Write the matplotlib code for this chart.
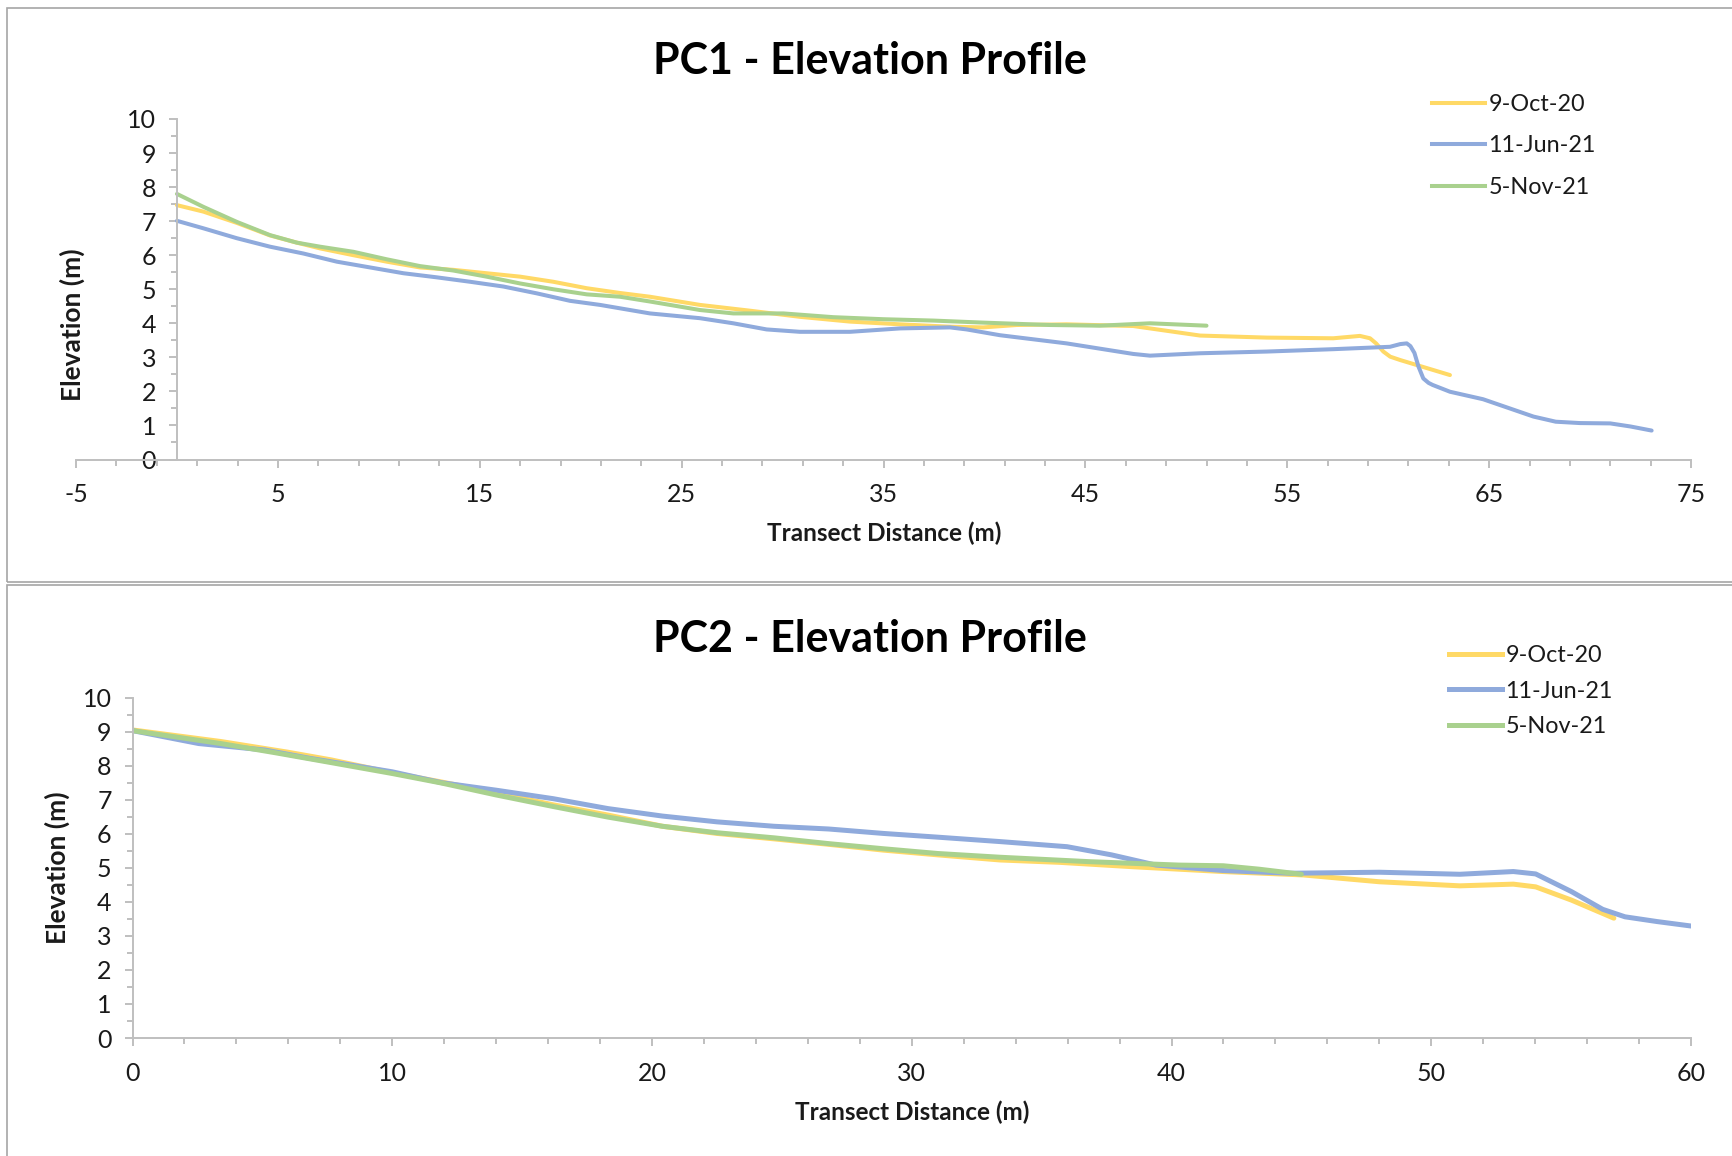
import matplotlib.pyplot as plt
from matplotlib.ticker import FixedLocator, MultipleLocator
from matplotlib.patches import Rectangle
from matplotlib.lines import Line2D

plt.rcParams['font.family'] = ['Lato', 'DejaVu Sans']
plt.rcParams['axes.unicode_minus'] = False

dates = ['9-Oct-20', '11-Jun-21', '5-Nov-21']
colors = ['#FFD966', '#8FAADC', '#A9D18E']

# PC1 profiles (distance m, elevation m)
pc1_oct20_x = [0, 1.31, 2.96, 4.61, 5.93, 7.09, 8.74, 10.39, 12.04, 13.69, 15.34, 17.0, 18.64, 20.3, 21.95, 23.43,
               25.91, 28.39, 30.86, 33.34, 35.82, 38.29, 39.94, 41.6, 44.07, 47.37, 49.03, 50.68, 53.98, 57.28,
               58.6, 59.1, 59.4, 59.76, 60.1, 60.6, 63.06]
pc1_oct20_y = [7.47, 7.28, 6.95, 6.58, 6.37, 6.2, 6.0, 5.81, 5.64, 5.57, 5.47, 5.37, 5.22, 5.03, 4.89, 4.78,
               4.54, 4.37, 4.19, 4.05, 3.97, 3.9, 3.88, 3.95, 3.97, 3.92, 3.78, 3.64, 3.58, 3.56,
               3.63, 3.56, 3.41, 3.17, 3.02, 2.92, 2.48]

pc1_jun21_x = [0, 1.31, 2.96, 4.61, 6.26, 7.92, 9.57, 11.22, 12.87, 14.52, 16.17, 17.82, 19.47, 20.96, 23.43,
               25.91, 27.56, 29.21, 30.86, 33.34, 35.82, 38.29, 39.12, 40.77, 44.07, 47.37, 48.2, 50.68, 53.98,
               57.28, 60.09, 60.6, 60.92, 61.1, 61.3, 61.5, 61.74, 62.0, 62.2, 63.06, 64.7, 67.2, 68.3, 69.5,
               71.0, 72.0, 73.05]
pc1_jun21_y = [7.01, 6.79, 6.5, 6.25, 6.05, 5.81, 5.64, 5.47, 5.35, 5.22, 5.08, 4.88, 4.66, 4.54, 4.29,
               4.15, 4.0, 3.82, 3.75, 3.75, 3.85, 3.88, 3.82, 3.65, 3.41, 3.1, 3.05, 3.12, 3.17,
               3.24, 3.31, 3.39, 3.41, 3.33, 3.13, 2.73, 2.38, 2.25, 2.19, 1.99, 1.77, 1.26, 1.11, 1.07,
               1.06, 0.97, 0.85]

pc1_nov21_x = [0, 1.31, 2.96, 4.61, 5.93, 7.09, 8.74, 10.39, 12.04, 13.69, 15.34, 17.0, 18.64, 20.3, 21.95, 23.43,
               25.91, 27.56, 30.04, 32.51, 34.99, 37.47, 39.94, 43.25, 45.72, 48.2, 51.0]
pc1_nov21_y = [7.8, 7.42, 6.98, 6.59, 6.37, 6.25, 6.1, 5.88, 5.68, 5.55, 5.37, 5.17, 5.0, 4.85, 4.78, 4.64,
               4.39, 4.29, 4.29, 4.18, 4.12, 4.08, 4.02, 3.95, 3.93, 4.0, 3.93]

# PC2 profiles
pc2_oct20_x = [0, 3.4, 5.95, 7.65, 10, 11.9, 14, 16.2, 18.3, 20.4, 22.5, 24.7, 26.8, 28.9, 31, 33.4, 35.7, 38.55,
               41.99, 45.08, 48.0, 51.1, 53.16, 54.02, 55.4, 57.03]
pc2_oct20_y = [9.05, 8.71, 8.4, 8.17, 7.79, 7.52, 7.2, 6.85, 6.55, 6.22, 6.01, 5.85, 5.69, 5.52, 5.38, 5.23, 5.16,
               5.03, 4.89, 4.79, 4.59, 4.47, 4.52, 4.44, 4.05, 3.52]

pc2_jun21_x = [0, 2.55, 5.1, 6.8, 10, 11.9, 14, 16.2, 18.3, 20.4, 22.5, 24.7, 26.8, 28.9, 31, 33.4, 35.98, 37.69,
               39.4, 41.99, 44.57, 48.0, 51.1, 53.16, 54.02, 55.4, 56.6, 57.46, 58.7, 60]
pc2_jun21_y = [9.03, 8.65, 8.46, 8.22, 7.82, 7.5, 7.28, 7.03, 6.74, 6.52, 6.35, 6.22, 6.14, 6.01, 5.9, 5.77, 5.62,
               5.38, 5.08, 4.92, 4.84, 4.87, 4.81, 4.89, 4.82, 4.3, 3.78, 3.56, 3.42, 3.29]

pc2_nov21_x = [0, 3.4, 5.5, 7.65, 10, 11.9, 14, 16.2, 18.3, 20.4, 22.5, 24.7, 26.8, 28.9, 31, 33.4, 36.84, 40.27,
               41.99, 43.36, 45.0]
pc2_nov21_y = [9.03, 8.65, 8.38, 8.09, 7.77, 7.49, 7.14, 6.8, 6.49, 6.22, 6.03, 5.88, 5.71, 5.56, 5.42, 5.31, 5.18,
               5.08, 5.06, 4.96, 4.81]

W, H = 1732, 1156
fig = plt.figure(figsize=(W / 100, H / 100), dpi=100)

# panel borders like the Excel chart frames
fig.patches.append(Rectangle((7 / W, 1 - 582 / H), 2, 574 / H, transform=fig.transFigure,
                             fill=False, edgecolor='#a6a6a6', lw=1.2))
fig.patches.append(Rectangle((7 / W, -0.1), 2, 1 - 585 / H + 0.1, transform=fig.transFigure,
                             fill=False, edgecolor='#a6a6a6', lw=1.2))

axis_grey = '#bfbfbf'
text_col = '#1a1a1a'


def style_axes(ax, xmin, xmax, xmajor, xminor):
    ax.set_xlim(xmin, xmax)
    ax.set_ylim(0, 10)
    ax.spines['left'].set_position(('data', 0))
    ax.spines['top'].set_visible(False)
    ax.spines['right'].set_visible(False)
    for s in ['left', 'bottom']:
        ax.spines[s].set_color(axis_grey)
        ax.spines[s].set_linewidth(1.4)
    ax.xaxis.set_major_locator(FixedLocator(xmajor))
    ax.xaxis.set_minor_locator(FixedLocator(xminor))
    ax.yaxis.set_major_locator(MultipleLocator(1))
    ax.yaxis.set_minor_locator(MultipleLocator(0.5))
    ax.tick_params(axis='both', which='both', color=axis_grey, width=1.4, labelcolor=text_col, labelsize=18)
    ax.tick_params(axis='x', which='major', length=6, pad=11)
    ax.tick_params(axis='x', which='minor', length=4.5)
    ax.tick_params(axis='y', which='major', length=6, pad=9)
    ax.tick_params(axis='y', which='minor', length=4.5)
    ax.patch.set_visible(False)


line_kw = dict(solid_capstyle='round', solid_joinstyle='round')

# ---- PC1 ----
ax1 = fig.add_axes([76 / W, 1 - 459.5 / H, (1691 - 76) / W, (459.5 - 119) / H])
ax1.plot(pc1_oct20_x, pc1_oct20_y, color=colors[0], lw=2.9, **line_kw)
ax1.plot(pc1_jun21_x, pc1_jun21_y, color=colors[1], lw=2.9, **line_kw)
ax1.plot(pc1_nov21_x, pc1_nov21_y, color=colors[2], lw=2.9, **line_kw)
style_axes(ax1, -5, 75, list(range(-5, 76, 10)), list(range(-5, 76, 2)))

fig.text(870 / W, 1 - 61 / H, 'PC1 - Elevation Profile', ha='center', va='center',
         fontsize=31, fontweight='bold', color='black')
fig.text(72 / W, 1 - 325 / H, 'Elevation (m)', rotation=90, ha='center', va='center',
         fontsize=19, fontweight='bold', color=text_col)
fig.text(884 / W, 1 - 533.5 / H, 'Transect Distance (m)', ha='center', va='center',
         fontsize=17.5, fontweight='bold', color=text_col)

h1 = [Line2D([], [], color=c, lw=2.9) for c in colors]
fig.legend(h1, dates, loc='center left', bbox_to_anchor=(1432 / W, 1 - 146 / H), frameon=False,
           fontsize=16.8, handlelength=2.27, handletextpad=0.15, labelspacing=0.89, borderpad=0,
           borderaxespad=0, labelcolor=text_col)

# ---- PC2 ----
ax2 = fig.add_axes([132.5 / W, 1 - 1038 / H, (1691 - 132.5) / W, (1038 - 697.6) / H])
ax2.plot(pc2_oct20_x, pc2_oct20_y, color=colors[0], lw=3.6, **line_kw)
ax2.plot(pc2_jun21_x, pc2_jun21_y, color=colors[1], lw=3.6, **line_kw)
ax2.plot(pc2_nov21_x, pc2_nov21_y, color=colors[2], lw=3.6, **line_kw)
style_axes(ax2, 0, 60, list(range(0, 61, 10)), list(range(0, 61, 2)))

fig.text(870 / W, 1 - 639.5 / H, 'PC2 - Elevation Profile', ha='center', va='center',
         fontsize=31, fontweight='bold', color='black')
fig.text(57.5 / W, 1 - 868 / H, 'Elevation (m)', rotation=90, ha='center', va='center',
         fontsize=19, fontweight='bold', color=text_col)
fig.text(912 / W, 1 - 1112 / H, 'Transect Distance (m)', ha='center', va='center',
         fontsize=17.5, fontweight='bold', color=text_col)

h2 = [Line2D([], [], color=c, lw=3.6) for c in colors]
fig.legend(h2, dates, loc='center left', bbox_to_anchor=(1449 / W, 1 - 691 / H), frameon=False,
           fontsize=16.8, handlelength=2.27, handletextpad=0.15, labelspacing=0.61, borderpad=0,
           borderaxespad=0, labelcolor=text_col)

fig.savefig('out.png', dpi=100)
